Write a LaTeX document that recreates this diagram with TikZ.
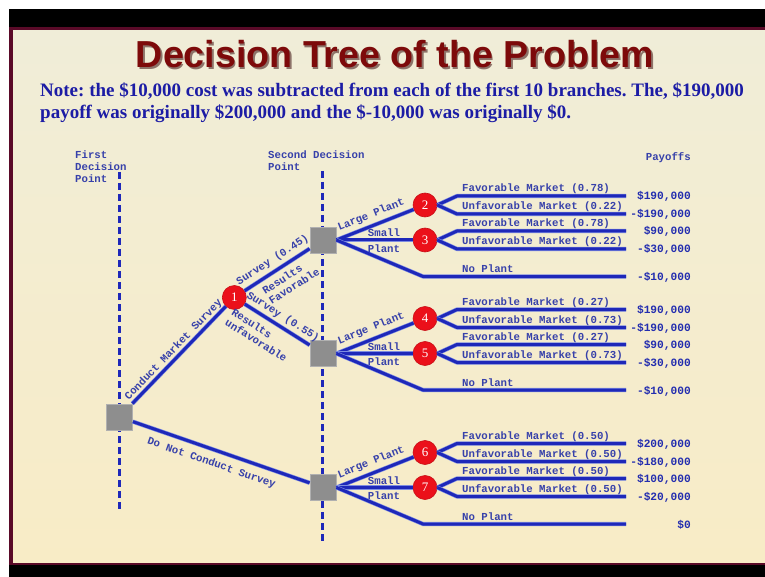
\documentclass[tikz,border=0pt]{standalone}
\usepackage{fontspec}
\setmainfont{Liberation Serif}
\newfontfamily\monof{Liberation Mono}
\newfontfamily\titlef{Liberation Sans}
\usetikzlibrary{calc}
\frenchspacing

\definecolor{bgtop}{RGB}{240,237,216}
\definecolor{bgbot}{RGB}{248,236,198}
\definecolor{framec}{RGB}{90,10,40}
\definecolor{titlered}{RGB}{125,10,10}
\definecolor{titlesh}{RGB}{60,15,15}
\definecolor{notec}{RGB}{28,28,165}
\definecolor{brc}{RGB}{30,40,185}
\definecolor{brglow}{RGB}{125,140,225}
\definecolor{labc}{RGB}{55,65,170}
\definecolor{payc}{RGB}{35,45,175}
\definecolor{nodered}{RGB}{235,16,26}
\definecolor{sqgray}{RGB}{142,142,142}

\newcommand\dgroup[6]{%
  \node[ch] (c#3) at (425,{#2-35}) {#3};
  \node[ch] (c#4) at (425,#2) {#4};
  \coordinate (f#3a) at (457,{#2-44});
  \coordinate (e#3a) at (626,{#2-44});
  \coordinate (f#3b) at (457,{#2-26});
  \coordinate (e#3b) at (626,{#2-26});
  \coordinate (f#4a) at (457,{#2-9});
  \coordinate (e#4a) at (626,{#2-9});
  \coordinate (f#4b) at (457,{#2+9});
  \coordinate (e#4b) at (626,{#2+9});
  \coordinate (np#1) at (423,{#2+36.5});
  \coordinate (npe#1) at (626,{#2+36.5});
  \draw[br] (#1.east) -- node[lab, sloped, above=4pt, pos=0.5] (lp#1) {Large Plant} (c#3);
  \draw[br] (#1.east) -- (c#4);
  \draw[br] (#1.east) -- (np#1) -- (npe#1);
  \draw[br] (c#3.east) -- (f#3a) -- (e#3a);
  \draw[br] (c#3.east) -- (f#3b) -- (e#3b);
  \draw[br] (c#4.east) -- (f#4a) -- (e#4a);
  \draw[br] (c#4.east) -- (f#4b) -- (e#4b);
  \node[lab, anchor=base] (sm#1) at (384,{#2-3.5}) {Small};
  \node[lab, anchor=base] (pl#1) at (384,{#2+12}) {Plant};
  \node[lab, anchor=base west] (fa#3) at (462,{#2-48}) {Favorable Market (#5)};
  \node[lab, anchor=base west] (ua#3) at (462,{#2-30}) {Unfavorable Market (#6)};
  \node[lab, anchor=base west] (fa#4) at (462,{#2-13}) {Favorable Market (#5)};
  \node[lab, anchor=base west] (ua#4) at (462,{#2+5}) {Unfavorable Market (#6)};
  \node[lab, anchor=base west] (nl#1) at (462,{#2+32.5}) {No Plant};
}

\begin{document}
\begin{tikzpicture}[x=1pt,y=-1pt,
  sq/.style={rectangle, fill=sqgray, draw=sqgray!70!white, line width=0.8pt, minimum size=26pt, inner sep=0pt},
  ch/.style={circle, fill=nodered, draw=nodered!85!black, line width=0.6pt, minimum size=24pt, inner sep=0pt, text=white, font=\fontsize{13}{13}\selectfont},
  br/.style={draw=brc, line width=3pt, line join=round, preaction={draw=brglow, line width=4.2pt, line join=round}},
  dl/.style={draw=brc, line width=2.6pt, dash pattern=on 7pt off 4pt},
  lab/.style={text=labc, font=\monof\bfseries\fontsize{10.7}{12}\selectfont, inner sep=0pt},
  pay/.style={text=payc, font=\monof\bfseries\fontsize{11.2}{12}\selectfont, inner sep=0pt, anchor=base east},
]
\useasboundingbox (0,0) rectangle (765,577);
\fill[white] (0,0) rectangle (765,577);
\fill[black] (9,9) rectangle (765,27);
\fill[black] (9,565) rectangle (765,577);
\fill[framec] (9,27) rectangle (765,565);
\shade[top color=bgtop, bottom color=bgbot] (13,31) rectangle (765,562);

% title and note
\node[font=\titlef\bfseries\fontsize{37.6}{40}\selectfont, text=titlesh, text opacity=0.55, anchor=base, inner sep=0pt] (titlesh) at (396.5,69.5) {Decision Tree of the Problem};
\node[font=\titlef\bfseries\fontsize{37.6}{40}\selectfont, text=titlered, anchor=base, inner sep=0pt] (title) at (395,68) {Decision Tree of the Problem};
\node[anchor=base west, inner sep=0pt, text=notec, font=\bfseries\fontsize{19}{22}\selectfont] (note1) at (40,96.5) {Note: the \$10,000 cost was subtracted from each of the first 10 branches. The, \$190,000};
\node[anchor=base west, inner sep=0pt, text=notec, font=\bfseries\fontsize{19}{22}\selectfont] (note2) at (40,118.5) {payoff was originally \$200,000 and the \$-10,000 was originally \$0.};

% headers
\node[lab, anchor=base west] (fd1) at (75,158.5) {First};
\node[lab, anchor=base west] (fd2) at (75,170.5) {Decision};
\node[lab, anchor=base west] (fd3) at (75,182.5) {Point};
\node[lab, anchor=base west] (sd1) at (268,158.5) {Second Decision};
\node[lab, anchor=base west] (sd2) at (268,170.5) {Point};
\node[lab, anchor=base east] (payh) at (691,160.5) {Payoffs};

% dashed decision lines
\coordinate (d1t) at (119.5,172);
\coordinate (d1b) at (119.5,511);
\coordinate (d2t) at (322.5,171);
\coordinate (d2b) at (322.5,542);
\draw[dl] (d1t) -- (d1b);
\draw[dl] (d2t) -- (d2b);

% main nodes
\node[sq] (s1) at (119.5,417) {};
\node[ch] (c1) at (234.3,297.5) {1};
\node[sq] (s2) at (323,240) {};
\node[sq] (s3) at (323,353.5) {};
\node[sq] (s4) at (323,487.5) {};

\draw[br] (s1) -- node[lab, sloped, above=1pt, pos=0.5] (l1) {Conduct Market Survey} (c1);
\draw[br] (s1) -- node[lab, sloped, below=7pt, pos=0.47] (l2) {Do Not Conduct Survey} (s4);
\draw[br] (c1) -- node[lab, sloped, above=4pt, pos=0.52] (l3) {Survey (0.45)}
  node[lab, sloped, below=5.5pt, pos=0.57, align=left] (l4) {Results\\Favorable} (s2);
\draw[br] (c1) -- node[lab, sloped, above=3pt, pos=0.51] (l5) {Survey (0.55)}
  node[lab, sloped, below=7pt, pos=0.38, align=left] (l6) {Results\\unfavorable} (s3);

\dgroup{s2}{240}{2}{3}{0.78}{0.22}
\dgroup{s3}{353.5}{4}{5}{0.27}{0.73}
\dgroup{s4}{487.5}{6}{7}{0.50}{0.50}

% payoffs
\foreach \yy/\txt [count=\k] in {196/{\$190,000}, 214/{-\$190,000}, 231/{\$90,000}, 249/{-\$30,000}, 276.5/{-\$10,000},
  309.5/{\$190,000}, 327.5/{-\$190,000}, 344.5/{\$90,000}, 362.5/{-\$30,000}, 390/{-\$10,000},
  443.5/{\$200,000}, 461.5/{-\$180,000}, 478.5/{\$100,000}, 496.5/{-\$20,000}, 524/{\$0}}
  \node[pay] (pay\k) at (691,\yy+4) {\txt};
\end{tikzpicture}
\end{document}
